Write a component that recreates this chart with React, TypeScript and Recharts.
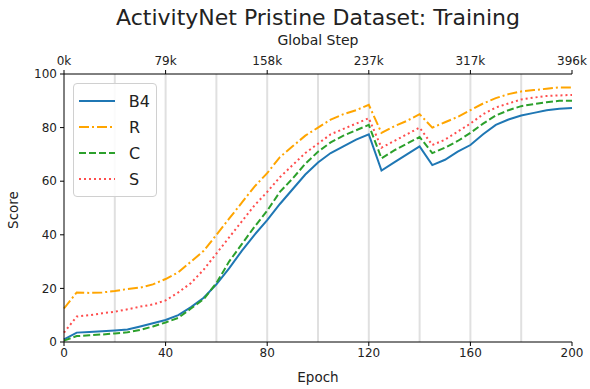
import React from 'react';
import { LineChart, Line, XAxis, YAxis, ReferenceLine } from 'recharts';

const epochs = [0, 5, 10, 15, 20, 25, 30, 35, 40, 45, 50, 55, 60, 65, 70, 75, 80, 85, 90, 95, 100, 105, 110, 115, 120, 125, 130, 135, 140, 145, 150, 155, 160, 165, 170, 175, 180, 185, 190, 195, 200];
const b4 = [1, 3.5, 3.7, 4.0, 4.3, 4.7, 5.8, 7.0, 8.2, 10.0, 13.0, 16.5, 21.5, 27.5, 34, 40, 45.5, 51.5, 57, 62.5, 67, 70.5, 73, 75.5, 77.5, 64, 67, 70, 73, 66, 68, 71, 73.5, 77.5, 81, 83, 84.5, 85.5, 86.5, 87, 87.3];
const r = [12.5, 18.5, 18.3, 18.5, 19, 19.8, 20.3, 21.5, 23.5, 26, 30, 34, 40, 46, 52, 58, 63, 69, 73, 77, 80, 83, 85, 86.5, 88.5, 78, 80.5, 82.5, 85, 80, 82, 84, 86.5, 89, 91, 92.5, 93.5, 94, 94.5, 95, 95];
const c = [0.5, 2.2, 2.5, 2.8, 3.2, 3.6, 4.5, 5.8, 7.3, 9, 12.5, 16, 22, 30, 36.5, 43, 49, 56, 61, 66.5, 71, 74.5, 77, 79, 81, 68.5, 71.5, 74, 76.5, 70.5, 72.5, 75, 78, 81.5, 84.5, 86.5, 88, 88.8, 89.5, 90, 90];
const s = [3.5, 9.5, 10, 10.7, 11.3, 12.2, 13.2, 14, 15.5, 18.5, 22, 27, 33, 39, 45, 51, 56, 61.5, 66, 70.5, 74, 77.5, 79.5, 81.5, 83.5, 72.5, 75, 77.5, 80, 73.5, 75.5, 78.5, 81.5, 85, 87.5, 89, 90.5, 91.2, 91.8, 92, 92.2];

const seriesNames = ['B4', 'R', 'C', 'S'];
const bottomTicks = [0, 40, 80, 120, 160, 200];
const topTickLabels = ['0k', '79k', '158k', '237k', '317k', '396k'];
const yTicks = [0, 20, 40, 60, 80, 100];
const gridEpochs = [20, 40, 60, 80, 100, 120, 140, 160, 180];

const data = epochs.map((e, i) => ({ epoch: e, B4: b4[i], R: r[i], C: c[i], S: s[i] }));

const styles: Record<string, { color: string; dash?: string }> = {
  B4: { color: '#1f77b4' },
  R: { color: '#ffa500', dash: '10 3 2 3' },
  C: { color: '#2ca02c', dash: '7 3' },
  S: { color: '#ff4d4d', dash: '2 3' },
};

const FONT = '"DejaVu Sans", sans-serif';
const tickStyle = { fontSize: 12, fill: '#222', fontFamily: FONT };

const LegendBox = () => (
  <div
    style={{
      border: '1px solid #d0d0d0',
      borderRadius: 4,
      background: 'rgba(255,255,255,0.85)',
      padding: '4px 6px 4px 4px',
      fontFamily: FONT,
      fontSize: 16,
      color: '#222',
      width: 84,
      boxSizing: 'border-box',
    }}
  >
    {seriesNames.map((n) => (
      <div key={n} style={{ display: 'flex', alignItems: 'center', height: 26 }}>
        <svg width={38} height={10} style={{ marginRight: 13 }}>
          <line x1={1} y1={5} x2={37} y2={5} stroke={styles[n].color} strokeWidth={2} strokeDasharray={styles[n].dash} />
        </svg>
        <span>{n}</span>
      </div>
    ))}
  </div>
);

export default function App() {
  return (
    <div style={{ position: 'absolute', left: 0, top: 0, width: 590, height: 389, background: '#fff' }}>
      <div style={{ position: 'absolute', left: 0, top: 5, width: 636, textAlign: 'center', fontFamily: FONT, fontSize: 22, color: '#222', whiteSpace: 'nowrap' }}>
        ActivityNet Pristine Dataset: Training
      </div>
      <div style={{ position: 'absolute', left: 0, top: 32, width: 636, textAlign: 'center', fontFamily: FONT, fontSize: 14, color: '#222' }}>
        Global Step
      </div>
      <div style={{ position: 'absolute', left: 0, top: 369, width: 636, textAlign: 'center', fontFamily: FONT, fontSize: 13.5, color: '#222' }}>
        Epoch
      </div>
      <div
        style={{
          position: 'absolute',
          left: 13,
          top: 210,
          transform: 'translate(-50%, -50%) rotate(-90deg)',
          fontFamily: FONT,
          fontSize: 13.5,
          color: '#222',
          whiteSpace: 'nowrap',
        }}
      >
        Score
      </div>
      <div style={{ position: 'absolute', left: 0, top: 0 }}>
        <LineChart width={590} height={389} data={data} margin={{ top: 54, right: 18, bottom: 17, left: 24 }}>
          {gridEpochs.map((g) => (
            <ReferenceLine key={g} x={g} stroke="#e0e0e0" strokeWidth={2} ifOverflow="hidden" />
          ))}
          <XAxis
            dataKey="epoch"
            type="number"
            domain={[0, 200]}
            ticks={bottomTicks}
            tick={tickStyle}
            tickSize={4}
            tickMargin={2}
            height={30}
            stroke="#000"
            interval={0}
          />
          <XAxis
            xAxisId="top"
            dataKey="epoch"
            orientation="top"
            type="number"
            domain={[0, 200]}
            ticks={bottomTicks}
            tickFormatter={(v: number) => topTickLabels[bottomTicks.indexOf(v)]}
            tick={tickStyle}
            tickSize={4}
            tickMargin={5}
            height={20}
            stroke="#000"
            interval={0}
          />
          <YAxis
            type="number"
            domain={[0, 100]}
            ticks={yTicks}
            tick={tickStyle}
            tickSize={4}
            tickMargin={3}
            width={40}
            stroke="#000"
            interval={0}
          />
          <YAxis yAxisId="right" orientation="right" type="number" domain={[0, 100]} tick={false} tickLine={false} width={0} stroke="#000" />
          {seriesNames.map((n) => (
            <Line
              key={n}
              type="linear"
              dataKey={n}
              name={n}
              stroke={styles[n].color}
              strokeWidth={2}
              strokeDasharray={styles[n].dash}
              dot={false}
              activeDot={false}
              isAnimationActive={false}
            />
          ))}
        </LineChart>
      </div>
      <div style={{ position: 'absolute', left: 73, top: 83 }}>
        <LegendBox />
      </div>
    </div>
  );
}
